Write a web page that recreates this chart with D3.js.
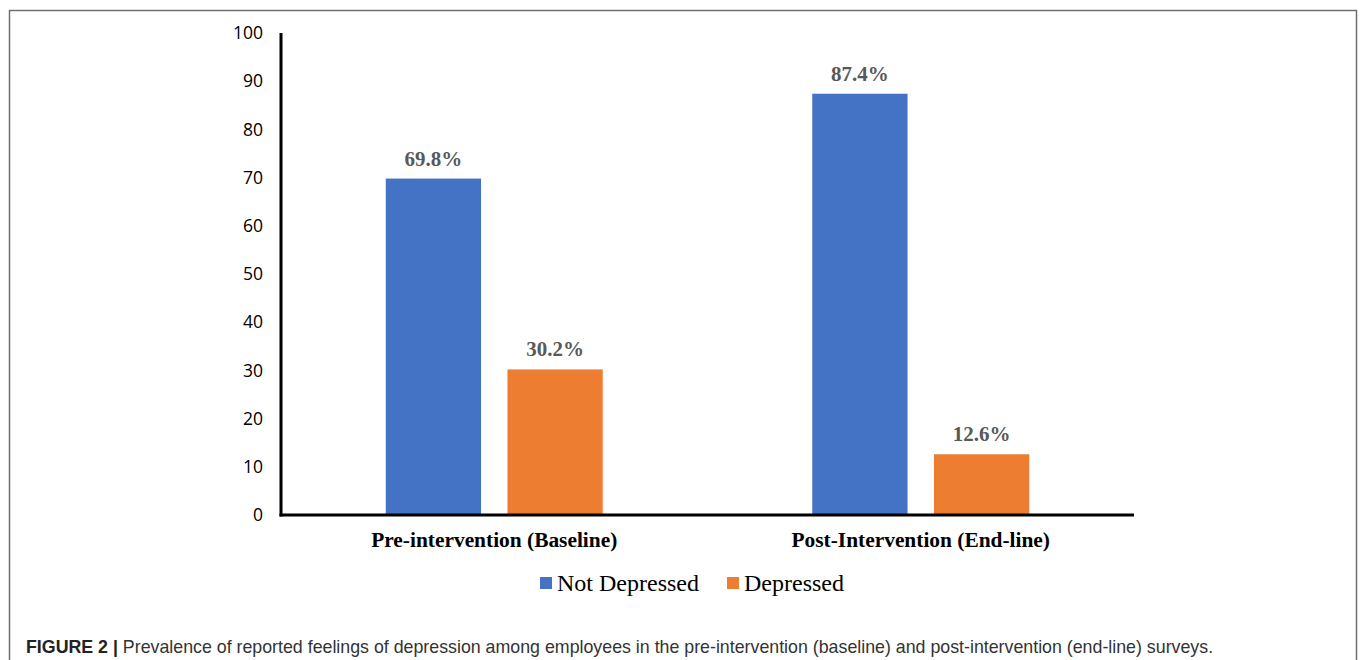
<!DOCTYPE html>
<html>
<head>
<meta charset="utf-8">
<script src="https://cdn.jsdelivr.net/npm/d3@7"></script>
<style>
  html, body { margin: 0; padding: 0; background: #fff; }
  svg { display: block; }
</style>
</head>
<body>
<svg id="chart" width="1360" height="660"></svg>
<script>
// Survey phases, series and prevalence values (%)
const categories = ["Pre-intervention (Baseline)", "Post-Intervention (End-line)"];
const seriesNames = ["Not Depressed", "Depressed"];
const notDepressed = [69.8, 87.4];
const depressed = [30.2, 12.6];
const yTicks = [0, 10, 20, 30, 40, 50, 60, 70, 80, 90, 100];
const captionLead = "FIGURE 2 |";
const captionText = " Prevalence of reported feelings of depression among employees in the pre-intervention (baseline) and post-intervention (end-line) surveys.";

const colors = ["#4472C4", "#ED7D31"];
const seriesValues = [notDepressed, depressed];

const svg = d3.select("#chart");

// Figure frame
svg.append("path")
  .attr("d", "M9.5,660 L9.5,10.5 L1356.5,10.5 L1356.5,660")
  .attr("fill", "none")
  .attr("stroke", "#6f6f6f")
  .attr("stroke-width", 1.5);

const plot = { left: 281, right: 1134, top: 33, bottom: 515 };

const x0 = d3.scaleBand()
  .domain(categories)
  .range([plot.left, plot.right])
  .paddingInner(0)
  .paddingOuter(0);

// Pair of bars sits centred in each category band
const pairWidth = 217;
const x1 = d3.scaleBand()
  .domain(seriesNames)
  .range([(x0.bandwidth() - pairWidth) / 2, (x0.bandwidth() + pairWidth) / 2])
  .paddingInner(0.217)
  .paddingOuter(0);

const y = d3.scaleLinear()
  .domain([0, 100])
  .range([plot.bottom, plot.top]);

// Bars
const groups = svg.append("g").selectAll("g")
  .data(categories)
  .join("g")
  .attr("transform", d => `translate(${x0(d)},0)`);

const barData = (c, i) => seriesNames.map((s, k) => ({ series: s, value: seriesValues[k][i], color: colors[k] }));

groups.each(function(c, i) {
  const g = d3.select(this);
  const data = barData(c, i);
  g.selectAll("rect")
    .data(data)
    .join("rect")
    .attr("x", d => x1(d.series))
    .attr("y", d => y(d.value))
    .attr("width", x1.bandwidth())
    .attr("height", d => y(0) - y(d.value))
    .attr("fill", d => d.color);
  g.selectAll("text.value")
    .data(data)
    .join("text")
    .attr("class", "value")
    .attr("x", d => x1(d.series) + x1.bandwidth() / 2)
    .attr("y", d => y(d.value) - 13)
    .attr("text-anchor", "middle")
    .attr("font-family", "'Liberation Serif', 'Times New Roman', serif")
    .attr("font-weight", "bold")
    .attr("font-size", 21)
    .attr("fill", "#595959")
    .text(d => d.value.toFixed(1) + "%");
});

// Y axis
const yAxis = svg.append("g")
  .attr("transform", `translate(${plot.left},0)`)
  .call(d3.axisLeft(y).tickValues(yTicks).tickSize(0).tickPadding(18).tickFormat(d3.format("d")));
yAxis.select(".domain").attr("stroke", "#000").attr("stroke-width", 3)
  .attr("d", `M0,${plot.top}V${plot.bottom + 1.5}`);
yAxis.selectAll("text")
  .attr("font-family", "'Open Sans', 'DejaVu Sans', sans-serif")
  .attr("font-size", 17.5)
  .attr("fill", "#000");

// X axis
const xAxis = svg.append("g")
  .attr("transform", `translate(0,${plot.bottom})`)
  .call(d3.axisBottom(x0).tickSize(0).tickPadding(17));
xAxis.select(".domain").attr("stroke", "#000").attr("stroke-width", 3)
  .attr("d", `M${plot.left - 1.5},0H${plot.right}`);
xAxis.selectAll("text")
  .attr("font-family", "'Liberation Serif', 'Times New Roman', serif")
  .attr("font-weight", "bold")
  .attr("font-size", 21.4)
  .attr("fill", "#000")
  .attr("dy", "0.71em");

// Legend
const legendItems = [
  { name: seriesNames[0], color: colors[0], x: 540 },
  { name: seriesNames[1], color: colors[1], x: 727 }
];
const legend = svg.append("g").selectAll("g")
  .data(legendItems)
  .join("g")
  .attr("transform", d => `translate(${d.x},577)`);
legend.append("rect")
  .attr("width", 12).attr("height", 12)
  .attr("fill", d => d.color);
legend.append("text")
  .attr("x", 17).attr("y", 14)
  .attr("font-family", "'Liberation Serif', 'Times New Roman', serif")
  .attr("font-size", 24)
  .attr("fill", "#000")
  .text(d => d.name);

// Caption
const cap = svg.append("text")
  .attr("x", 26).attr("y", 653)
  .attr("font-family", "'Liberation Sans', Arial, sans-serif")
  .attr("font-size", 17.8)
  .attr("fill", "#333");
cap.append("tspan").attr("font-weight", "bold").attr("fill", "#222").text(captionLead);
cap.append("tspan").text(captionText);
</script>
</body>
</html>
